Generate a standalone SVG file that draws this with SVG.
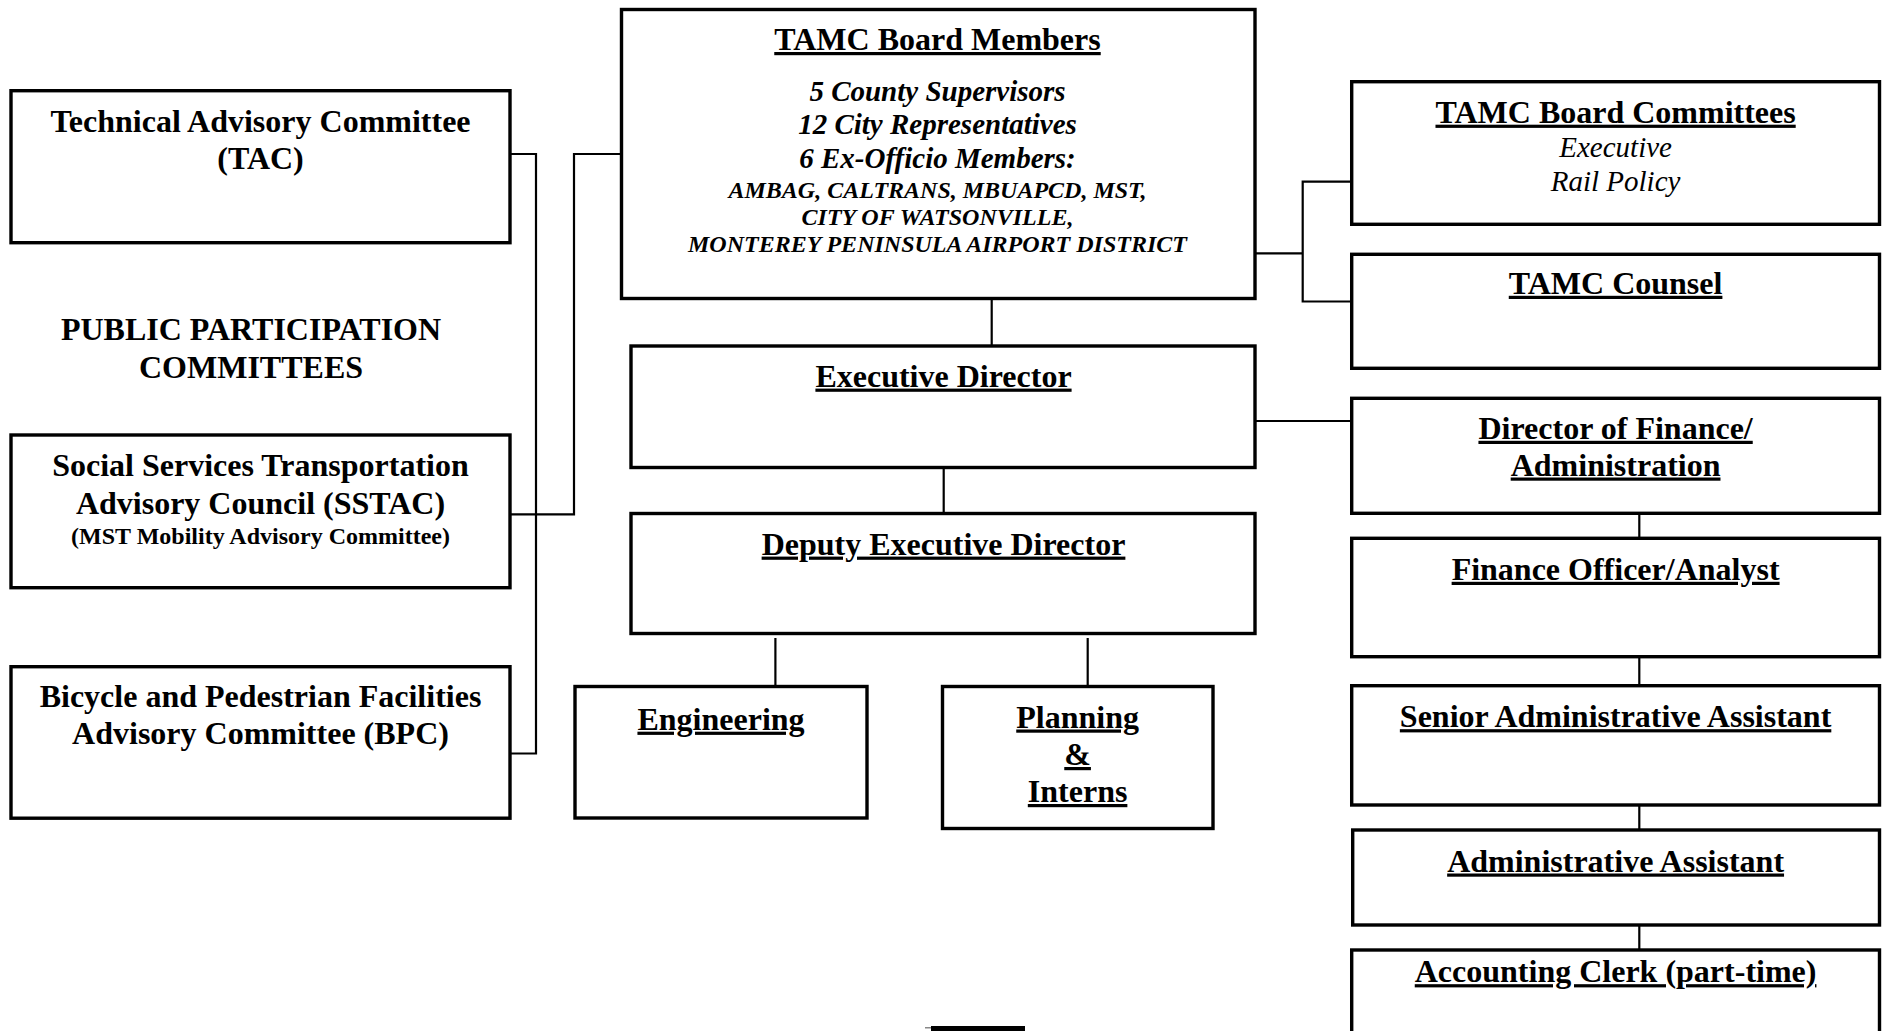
<svg xmlns="http://www.w3.org/2000/svg" width="1885" height="1031" viewBox="0 0 1885 1031">
<style>
.box{fill:#fff;stroke:#000;stroke-width:3.4}
.conn{fill:none;stroke:#000;stroke-width:2.2}
text{font-family:"Liberation Serif","Times New Roman",serif;font-weight:bold;font-size:32px;text-anchor:middle;fill:#000}
.u{text-decoration:underline;text-decoration-thickness:2.6px;text-underline-offset:4px}
.bi{font-style:italic;font-size:29px}
.bic{font-style:italic;font-size:24px}
.it{font-style:italic;font-weight:normal;font-size:29px}
.s24{font-size:24px}
</style>
<rect width="1885" height="1031" fill="#fff"/>
<g id="connectors">
<polyline class="conn" points="510,154 536,154 536,753.5 510,753.5"/>
<polyline class="conn" points="510,514.3 574,514.3 574,154 621.5,154"/>
<line class="conn" x1="991.7" y1="298.5" x2="991.7" y2="346"/>
<line class="conn" x1="943.7" y1="467.5" x2="943.7" y2="513.5"/>
<line class="conn" x1="775.4" y1="638" x2="775.4" y2="686.5"/>
<line class="conn" x1="1087.7" y1="638" x2="1087.7" y2="686.5"/>
<line class="conn" x1="1255" y1="253.3" x2="1302.7" y2="253.3"/>
<polyline class="conn" points="1351.7,181.7 1302.7,181.7 1302.7,301.5 1351.7,301.5"/>
<line class="conn" x1="1255" y1="421" x2="1351.7" y2="421"/>
<line class="conn" x1="1639.3" y1="513.3" x2="1639.3" y2="538.3"/>
<line class="conn" x1="1639.3" y1="656.7" x2="1639.3" y2="685.7"/>
<line class="conn" x1="1639.3" y1="805" x2="1639.3" y2="830"/>
<line class="conn" x1="1639.3" y1="925" x2="1639.3" y2="950"/>
</g>
<g id="tac">
<rect class="box" x="11" y="90.7" width="499" height="152"/>
<text x="260.5" y="131.5">Technical Advisory Committee</text>
<text x="260.5" y="169">(TAC)</text>
</g>
<g id="public-participation">
<text x="251" y="340.3">PUBLIC PARTICIPATION</text>
<text x="251" y="377.7">COMMITTEES</text>
</g>
<g id="sstac">
<rect class="box" x="11" y="435" width="499" height="152.7"/>
<text x="260.5" y="476">Social Services Transportation</text>
<text x="260.5" y="513.7">Advisory Council (SSTAC)</text>
<text class="s24" x="260.5" y="544.3">(MST Mobility Advisory Committee)</text>
</g>
<g id="bpc">
<rect class="box" x="11" y="666.7" width="499" height="151.5"/>
<text x="260.5" y="707.2">Bicycle and Pedestrian Facilities</text>
<text x="260.5" y="744.3">Advisory Committee (BPC)</text>
</g>
<g id="board">
<rect class="box" x="621.5" y="9.5" width="633.5" height="289"/>
<text class="u" x="937.5" y="50">TAMC Board Members</text>
<text class="bi" x="937.5" y="101">5 County Supervisors</text>
<text class="bi" x="937.5" y="134.3">12 City Representatives</text>
<text class="bi" x="937.5" y="167.7">6 Ex-Officio Members:</text>
<text class="bic" x="937.5" y="197.7">AMBAG, CALTRANS, MBUAPCD, MST,</text>
<text class="bic" x="937.5" y="225">CITY OF WATSONVILLE,</text>
<text class="bic" x="937.5" y="251.7">MONTEREY PENINSULA AIRPORT DISTRICT</text>
</g>
<g id="executive-director">
<rect class="box" x="631" y="346" width="624" height="121.5"/>
<text class="u" x="943.5" y="386.6">Executive Director</text>
</g>
<g id="deputy-executive-director">
<rect class="box" x="631" y="513.5" width="624" height="120"/>
<text class="u" x="943.5" y="554.6">Deputy Executive Director</text>
</g>
<g id="engineering">
<rect class="box" x="575" y="686.5" width="292" height="131.5"/>
<text class="u" x="721" y="729.7">Engineering</text>
</g>
<g id="planning">
<rect class="box" x="942.5" y="686.5" width="270.5" height="142"/>
<text class="u" x="1077.6" y="727.5">Planning</text>
<text class="u" x="1077.6" y="765">&amp;</text>
<text class="u" x="1077.6" y="802">Interns</text>
</g>
<g id="board-committees">
<rect class="box" x="1351.7" y="81.7" width="527.8" height="142.6"/>
<text class="u" x="1615.6" y="122.7">TAMC Board Committees</text>
<text class="it" x="1615.6" y="156.7">Executive</text>
<text class="it" x="1615.6" y="191">Rail Policy</text>
</g>
<g id="counsel">
<rect class="box" x="1351.7" y="254.3" width="527.8" height="114"/>
<text class="u" x="1615.6" y="293.8">TAMC Counsel</text>
</g>
<g id="director-finance">
<rect class="box" x="1351.7" y="398.3" width="527.8" height="115"/>
<text class="u" x="1615.6" y="438.8">Director of Finance/</text>
<text class="u" x="1615.6" y="475.5">Administration</text>
</g>
<g id="finance-officer">
<rect class="box" x="1351.7" y="538.3" width="527.8" height="118.4"/>
<text class="u" x="1615.6" y="579.8">Finance Officer/Analyst</text>
</g>
<g id="senior-admin">
<rect class="box" x="1351.7" y="685.7" width="527.8" height="119.3"/>
<text class="u" x="1615.6" y="727.2">Senior Administrative Assistant</text>
</g>
<g id="admin-assistant">
<rect class="box" x="1352.7" y="830" width="526.8" height="95"/>
<text class="u" x="1615.6" y="871.5">Administrative Assistant</text>
</g>
<g id="accounting-clerk">
<rect class="box" x="1351.7" y="950" width="527.8" height="120"/>
<text class="u" x="1615.6" y="982.2">Accounting Clerk (part-time)</text>
</g>
<rect x="931" y="1026" width="94" height="6" fill="#000"/>
<rect x="925" y="1027" width="6" height="1.5" fill="#888"/>
</svg>
